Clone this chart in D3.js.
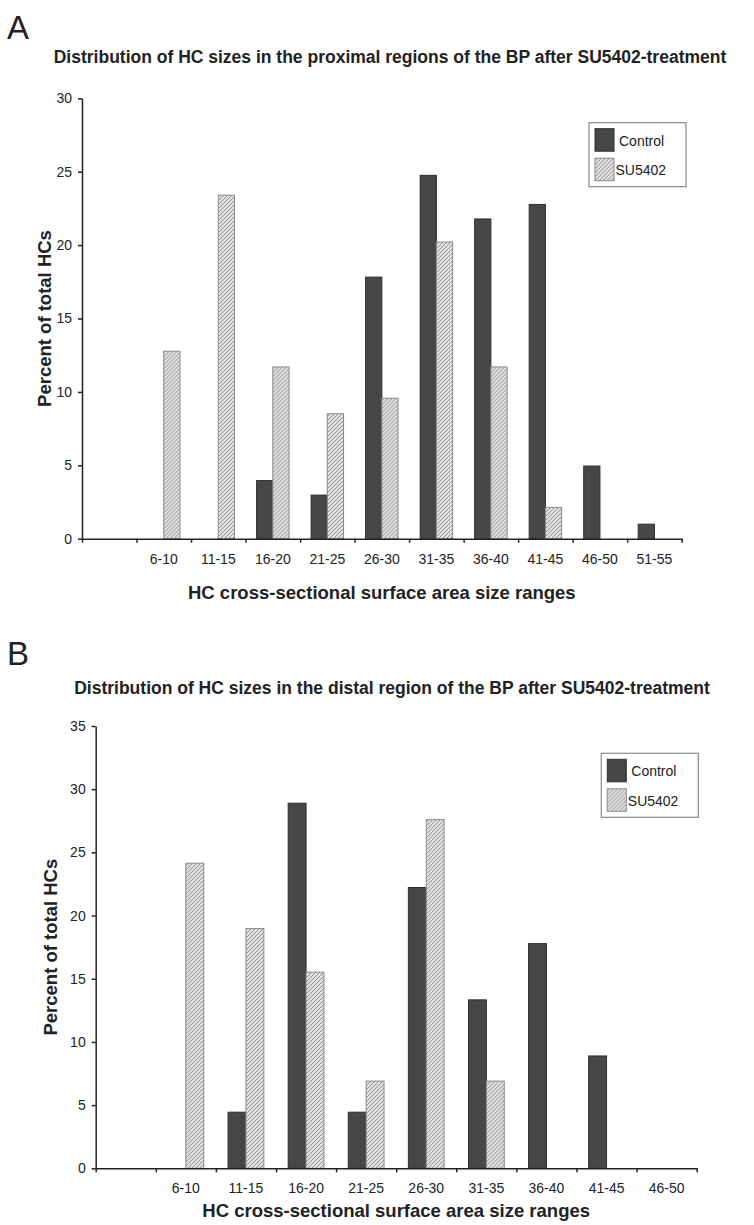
<!DOCTYPE html>
<html>
<head>
<meta charset="utf-8">
<script src="https://cdn.jsdelivr.net/npm/d3@7"></script>
<style>
  body { margin: 0; background: #fff; }
  svg text { font-family: "Liberation Sans", Arial, sans-serif; fill: #222; }
</style>
</head>
<body>
<svg class="grafico" width="754" height="1225"></svg>
<script>
// dados (percentual de HCs por faixa de tamanho)
const seriesNames = ["Control", "SU5402"];

const catsA    = ["", "6-10", "11-15", "16-20", "21-25", "26-30", "31-35", "36-40", "41-45", "46-50", "51-55"];
const controlA = [0, 0, 0, 3.96, 2.97, 17.82, 24.75, 21.78, 22.77, 4.95, 0.99];
const su5402A  = [0, 12.77, 23.40, 11.70, 8.51, 9.57, 20.21, 11.70, 2.13, 0, 0];
const ticksA   = [0, 5, 10, 15, 20, 25, 30];

const catsB    = ["", "6-10", "11-15", "16-20", "21-25", "26-30", "31-35", "36-40", "41-45", "46-50"];
const controlB = [0, 0, 4.44, 28.89, 4.44, 22.22, 13.33, 17.78, 8.89, 0];
const su5402B  = [0, 24.14, 18.97, 15.52, 6.90, 27.59, 6.90, 0, 0, 0];
const ticksB   = [0, 5, 10, 15, 20, 25, 30, 35];

const titleA = "Distribution of HC sizes in the proximal regions of the BP after SU5402-treatment";
const titleB = "Distribution of HC sizes in the distal region of the BP after SU5402-treatment";
const xTitle = "HC cross-sectional surface area size ranges";
const yTitle = "Percent of total HCs";

const $svg = d3.select(".grafico");

// padrão hachurado para as barras SU5402
const defs = $svg.append("defs");
const pat = defs.append("pattern")
    .attr("id", "hatch")
    .attr("patternUnits", "userSpaceOnUse")
    .attr("width", 4)
    .attr("height", 4);
pat.append("rect").attr("width", 4).attr("height", 4).attr("fill", "#e2e2e2");
pat.append("path")
    .attr("d", "M-1,1 l2,-2 M0,4 l4,-4 M3,5 l2,-2")
    .attr("stroke", "#8c8c8c")
    .attr("stroke-width", 1);

const FILL   = { "Control": "#474747", "SU5402": "url(#hatch)" };
const STROKE = { "Control": "#2e2e2e", "SU5402": "#8a8a8a" };

function painel(cfg) {
    const g = $svg.append("g");

    const x = d3.scaleBand()
        .domain(cfg.cats.map((c, i) => i))
        .range([cfg.x0, cfg.x1])
        .padding(0);

    const xs = d3.scaleBand()
        .domain(seriesNames)
        .range([0, x.bandwidth()])
        .paddingInner(0)
        .paddingOuter(0.68);

    const y = d3.scaleLinear()
        .domain([0, d3.max(cfg.ticks)])
        .range([cfg.y0, cfg.yTop]);

    // letra do painel
    g.append("text")
        .attr("x", 7).attr("y", cfg.letterY)
        .attr("font-size", 33)
        .text(cfg.letter);

    g.append("text")
        .attr("x", cfg.titleX).attr("y", cfg.titleY)
        .attr("text-anchor", "middle")
        .attr("font-size", 17.5)
        .attr("font-weight", "bold")
        .text(cfg.title);

    // barras
    const linhas = cfg.cats.map((c, i) => ({ i: i, vals: [
        { s: "Control", v: cfg.control[i] },
        { s: "SU5402", v: cfg.su[i] }
    ]}));

    g.selectAll("g.cat")
        .data(linhas)
        .join("g")
        .attr("class", "cat")
        .attr("transform", d => `translate(${x(d.i)},0)`)
        .selectAll("rect")
        .data(d => d.vals.filter(e => e.v > 0))
        .join("rect")
        .attr("x", d => xs(d.s))
        .attr("width", xs.bandwidth())
        .attr("y", d => y(d.v))
        .attr("height", d => cfg.y0 - y(d.v))
        .attr("fill", d => FILL[d.s])
        .attr("stroke", d => STROKE[d.s])
        .attr("stroke-width", 1);

    // eixo y
    const axY = g.append("g")
        .attr("transform", `translate(${cfg.x0},0)`)
        .call(d3.axisLeft(y).tickValues(cfg.ticks).tickSize(4).tickSizeOuter(0).tickPadding(6));
    axY.selectAll("text").attr("font-size", 14).attr("font-family", null);
    axY.selectAll("path, line").attr("stroke", "#222").attr("stroke-width", 1.5);

    // eixo x: marcas nas fronteiras das categorias
    const xb = d3.scaleLinear().domain([0, cfg.cats.length]).range([cfg.x0, cfg.x1]);
    const axX = g.append("g")
        .attr("transform", `translate(0,${cfg.y0})`)
        .call(d3.axisBottom(xb).tickValues(d3.range(cfg.cats.length + 1))
              .tickSize(4).tickSizeOuter(0).tickFormat(""));
    axX.selectAll("path, line").attr("stroke", "#222").attr("stroke-width", 1.5);

    const axL = g.append("g")
        .attr("transform", `translate(0,${cfg.y0})`)
        .call(d3.axisBottom(x).tickSize(0).tickPadding(cfg.labPad).tickFormat(i => cfg.cats[i]));
    axL.select(".domain").remove();
    axL.selectAll("text").attr("font-size", 14).attr("font-family", null);

    // títulos dos eixos
    g.append("text")
        .attr("x", (cfg.x0 + cfg.x1) / 2).attr("y", cfg.xTitleY)
        .attr("text-anchor", "middle")
        .attr("font-size", 18.5)
        .attr("font-weight", "bold")
        .text(xTitle);

    g.append("text")
        .attr("transform", `translate(${cfg.yTitleX},${(cfg.y0 + cfg.yTop) / 2}) rotate(-90)`)
        .attr("text-anchor", "middle")
        .attr("font-size", 18.5)
        .attr("font-weight", "bold")
        .text(yTitle);

    // legenda
    const lg = g.append("g").attr("transform", `translate(${cfg.legX},${cfg.legY})`);
    lg.append("rect")
        .attr("width", 97).attr("height", 64)
        .attr("fill", "#fff")
        .attr("stroke", "#8a8a8a")
        .attr("stroke-width", 1.2);
    seriesNames.forEach((s, k) => {
        lg.append("rect")
            .attr("x", 6).attr("y", 6 + k * 29.5)
            .attr("width", 19).attr("height", 22.5)
            .attr("fill", FILL[s])
            .attr("stroke", STROKE[s]);
        lg.append("text")
            .attr("x", k === 0 ? 30 : 26.5).attr("y", 23 + k * 29.5)
            .attr("font-size", 14)
            .text(s);
    });
}

painel({
    letter: "A", letterY: 39,
    title: titleA, titleX: 390, titleY: 63,
    cats: catsA, control: controlA, su: su5402A, ticks: ticksA,
    x0: 82, x1: 681.7, y0: 538.7, yTop: 98.3,
    labPad: 15, xTitleY: 599, yTitleX: 51,
    legX: 589, legY: 122.7
});

painel({
    letter: "B", letterY: 665,
    title: titleB, titleX: 392, titleY: 694,
    cats: catsB, control: controlB, su: su5402B, ticks: ticksB,
    x0: 95.7, x1: 696.7, y0: 1168.3, yTop: 726,
    labPad: 15, xTitleY: 1217, yTitleX: 57,
    legX: 601.3, legY: 753.3
});
</script>
</body>
</html>
